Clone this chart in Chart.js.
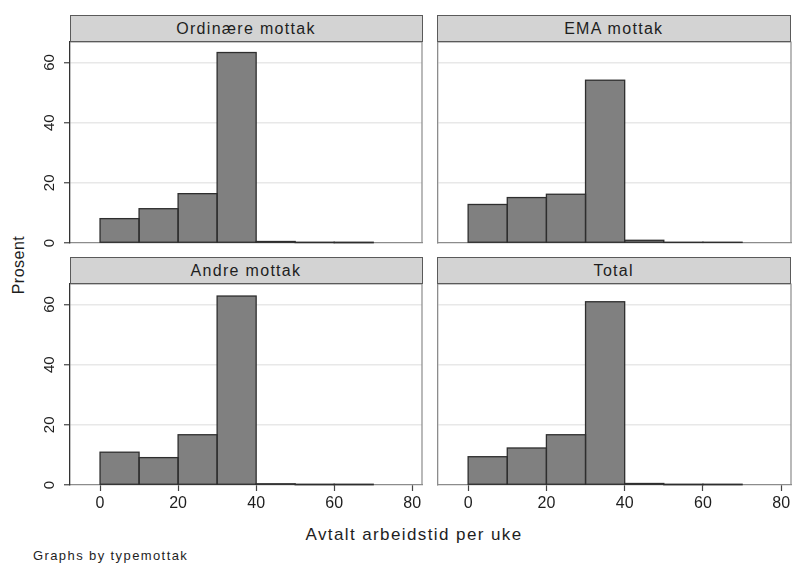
<!DOCTYPE html>
<html>
<head>
<meta charset="utf-8">
<script src="https://cdn.jsdelivr.net/npm/chart.js@4/dist/chart.umd.min.js"></script>
<style>
  html, body { margin: 0; padding: 0; background: #fff; }
  #fig {
    position: relative; width: 792px; height: 565px; overflow: hidden;
    font-family: "Liberation Sans", Arial, sans-serif; color: #1e1e1e;
  }
  #fig canvas { position: absolute; }
  .strip {
    position: absolute; box-sizing: border-box; height: 27px;
    background: #d3d3d3; border: 1px solid #5a5a5a;
    text-align: center; font-size: 16px; line-height: 25px;
    letter-spacing: 1.3px; z-index: 2; white-space: nowrap;
  }
  .lbl { position: absolute; white-space: nowrap; transform-origin: center center; }
</style>
</head>
<body>
<div id="fig"></div>
<script>
// Histogram bins: lower edges and bin width (hours per week)
const binStarts = [0, 10, 20, 30, 40, 50, 60];
const binWidth = 10;

// Percent of employees in each bin, one series per reception type
const ordinaere = [8.1, 11.4, 16.4, 63.3, 0.5, 0.15, 0.1];
const ema       = [12.8, 15.1, 16.2, 54.1, 0.9, 0.2, 0.2];
const andre     = [10.9, 9.1, 16.7, 62.8, 0.4, 0.1, 0.1];
const total     = [9.4, 12.3, 16.7, 60.9, 0.5, 0.1, 0.1];

const panelTitles = ["Ordinære mottak", "EMA mottak", "Andre mottak", "Total"];
const xTicks = [0, 20, 40, 60, 80];
const yTicks = [0, 20, 40, 60];
const xTitle = "Avtalt arbeidstid per uke";
const yTitle = "Prosent";
const noteText = "Graphs by typemottak";

const X_MIN = -7.7, X_MAX = 82.5, Y_MAX = 66.8;
const FONT = '"Liberation Sans", Arial, sans-serif';
const INK = '#1e1e1e';
const FRAME = '#8c8c8c';
const BAR_FILL = '#808080';
const BAR_EDGE = '#2e2e2e';

const fig = document.getElementById('fig');

// Plot-region boxes of the 2x2 grid
const panels = [
  { title: panelTitles[0], values: ordinaere, left: 70,    right: 422, top: 42,  bottom: 242.5, yLab: true,  xLab: false },
  { title: panelTitles[1], values: ema,       left: 437.5, right: 790, top: 42,  bottom: 242.5, yLab: false, xLab: false },
  { title: panelTitles[2], values: andre,     left: 70,    right: 422, top: 284, bottom: 485,   yLab: true,  xLab: true  },
  { title: panelTitles[3], values: total,     left: 437.5, right: 790, top: 284, bottom: 485,   yLab: false, xLab: true  }
];

// Panel frame, bar outlines (always stroked, even for near-empty bins) and tick labels
const panelFrame = {
  id: 'panelFrame',
  beforeDatasetsDraw(chart) {
    const { ctx, chartArea: a } = chart;
    ctx.save();
    ctx.strokeStyle = FRAME;
    ctx.lineWidth = 1.2;
    ctx.beginPath();
    ctx.moveTo(a.left, a.top);
    ctx.lineTo(a.right, a.top);
    ctx.lineTo(a.right, a.bottom);
    ctx.stroke();
    ctx.restore();
  },
  afterDatasetsDraw(chart) {
    const { ctx } = chart;
    const meta = chart.getDatasetMeta(0);
    ctx.save();
    ctx.strokeStyle = BAR_EDGE;
    ctx.lineWidth = 1.3;
    meta.data.forEach(bar => {
      const { x, y, base, width } = bar.getProps(['x', 'y', 'base', 'width'], true);
      ctx.strokeRect(x - width / 2, Math.min(y, base), width, Math.abs(base - y));
    });
    ctx.restore();
  },
  afterDraw(chart, args, opts) {
    const { ctx, chartArea: a } = chart;
    ctx.save();
    ctx.fillStyle = INK;
    ctx.textAlign = 'center';
    ctx.textBaseline = 'middle';
    if (opts.yLabels) {
      const ys = chart.scales.y;
      ctx.font = '15px ' + FONT;
      yTicks.forEach(v => {
        ctx.save();
        ctx.translate(a.left - 20, ys.getPixelForValue(v));
        ctx.rotate(-Math.PI / 2);
        ctx.fillText(String(v), 0, 0);
        ctx.restore();
      });
    }
    if (opts.xLabels) {
      const xs = chart.scales.x;
      ctx.font = '16px ' + FONT;
      xTicks.forEach(v => ctx.fillText(String(v), xs.getPixelForValue(v), a.bottom + 19));
    }
    ctx.restore();
  }
};

const M = 40;          // canvas margin around the plot region
const TICK = 6;        // tick mark length

panels.forEach(p => {
  const cLeft = p.left - M, cTop = p.top - 4;
  const cRight = Math.min(792, p.right + 2), cBottom = p.bottom + M;
  const cv = document.createElement('canvas');
  cv.width = Math.round(cRight - cLeft);
  cv.height = Math.round(cBottom - cTop);
  cv.style.left = cLeft + 'px';
  cv.style.top = cTop + 'px';
  cv.style.width = cv.width + 'px';
  cv.style.height = cv.height + 'px';
  fig.appendChild(cv);

  const strip = document.createElement('div');
  strip.className = 'strip';
  strip.textContent = p.title;
  strip.style.left = (p.left - 0.5) + 'px';
  strip.style.top = (p.top - 27) + 'px';
  strip.style.width = (p.right - p.left + 1) + 'px';
  fig.appendChild(strip);

  new Chart(cv, {
    type: 'bar',
    data: {
      datasets: [{
        data: p.values.map((v, i) => ({ x: binStarts[i] + binWidth / 2, y: v })),
        backgroundColor: BAR_FILL,
        borderWidth: 0,
        barPercentage: 1,
        categoryPercentage: 1,
        inflateAmount: 0
      }]
    },
    options: {
      responsive: false,
      animation: false,
      devicePixelRatio: 1,
      events: [],
      layout: {
        padding: {
          left: M - (p.yLab ? TICK : 0),
          right: cRight - p.right,
          top: p.top - cTop,
          bottom: cBottom - p.bottom - (p.xLab ? TICK : 0)
        }
      },
      plugins: {
        legend: { display: false },
        tooltip: { enabled: false },
        panelFrame: { yLabels: p.yLab, xLabels: p.xLab }
      },
      scales: {
        x: {
          type: 'linear',
          min: X_MIN, max: X_MAX,
          offset: false,
          afterBuildTicks: s => { s.ticks = xTicks.map(v => ({ value: v })); },
          grid: {
            display: true, drawOnChartArea: false, offset: false,
            drawTicks: p.xLab, tickLength: TICK, tickColor: '#444', tickWidth: 1.2
          },
          border: { display: true, color: FRAME, width: 1.2 },
          ticks: { display: false }
        },
        y: {
          type: 'linear',
          min: 0, max: Y_MAX,
          afterBuildTicks: s => { s.ticks = yTicks.map(v => ({ value: v })); },
          grid: {
            color: c => (c.tick && c.tick.value === 0) ? 'rgba(0,0,0,0)' : '#e8e8e8',
            lineWidth: 1.5,
            drawTicks: p.yLab, tickLength: TICK, tickColor: '#444', tickWidth: 1.2
          },
          border: { display: true, color: p.yLab ? '#333' : FRAME, width: 1.3 },
          ticks: { display: false }
        }
      }
    },
    plugins: [panelFrame]
  });
});

// Axis titles and note
function addLabel(text, cx, cy, size, spacing, rotate) {
  const d = document.createElement('div');
  d.className = 'lbl';
  d.textContent = text;
  d.style.fontSize = size + 'px';
  d.style.letterSpacing = spacing + 'px';
  d.style.left = cx + 'px';
  d.style.top = cy + 'px';
  d.style.transform = 'translate(-50%, -50%)' + (rotate ? ' rotate(-90deg)' : '');
  fig.appendChild(d);
  return d;
}
addLabel(xTitle, 414, 535, 17, 1.4, false);
addLabel(yTitle, 19, 265, 16, 0.5, true);

const note = document.createElement('div');
note.className = 'lbl';
note.textContent = noteText;
note.style.fontSize = '13px';
note.style.letterSpacing = '1.4px';
note.style.left = '33px';
note.style.top = '548px';
fig.appendChild(note);
</script>
</body>
</html>
